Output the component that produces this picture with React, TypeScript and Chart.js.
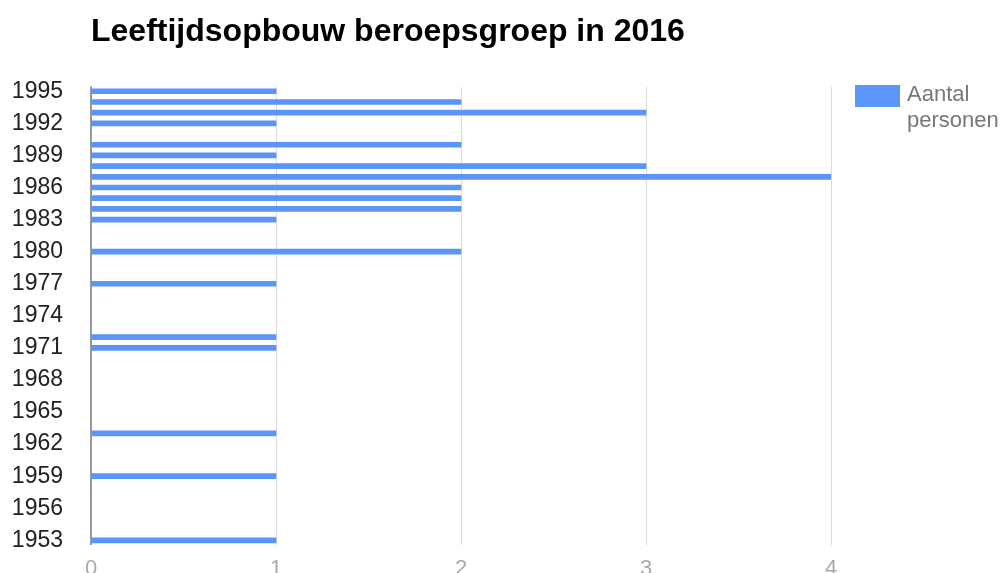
import React, { useEffect, useRef } from "react";
import { Chart, registerables } from "chart.js";

Chart.register(...registerables);

const titleText = "Leeftijdsopbouw beroepsgroep in 2016";
const seriesName = "Aantal personen";
const legendLines = ["Aantal", "personen"];
const years = [1995, 1994, 1993, 1992, 1990, 1989, 1988, 1987, 1986, 1985, 1984, 1983, 1980, 1977, 1972, 1971, 1963, 1959, 1953];
const counts = [1, 2, 3, 1, 2, 1, 3, 4, 2, 2, 2, 1, 2, 1, 1, 1, 1, 1, 1];
const yTickValues = [1953, 1956, 1959, 1962, 1965, 1968, 1971, 1974, 1977, 1980, 1983, 1986, 1989, 1992, 1995];
const xTickValues = [0, 1, 2, 3, 4];

const BAR_COLOR = "#5b95f9";
const FONT = "'Liberation Sans', Arial, sans-serif";

const legendPlugin = {
  id: "sideLegend",
  afterDraw(chart: any) {
    const { ctx, chartArea } = chart;
    const x = chartArea.right + 24;
    const y = chartArea.top - 2;
    ctx.save();
    ctx.fillStyle = BAR_COLOR;
    ctx.fillRect(x, y, 45, 22);
    ctx.fillStyle = "#777";
    ctx.font = `22px ${FONT}`;
    ctx.textBaseline = "top";
    ctx.textAlign = "left";
    legendLines.forEach((line, i) => {
      ctx.fillText(line, x + 52, y - 1 + i * 26);
    });
    ctx.restore();
  },
};

export default function App() {
  const ref = useRef<HTMLCanvasElement>(null);
  useEffect(() => {
    document.body.style.margin = "0";
    const chart = new Chart(ref.current as HTMLCanvasElement, {
      type: "bar",
      data: {
        datasets: [
          {
            label: seriesName,
            data: years.map((y, i) => ({ x: counts[i], y })),
            backgroundColor: BAR_COLOR,
            borderWidth: 0,
            barThickness: 5,
          },
        ],
      },
      options: {
        indexAxis: "y",
        responsive: false,
        animation: false,
        devicePixelRatio: 1,
        layout: { padding: { left: 0, right: 172, top: 0, bottom: 0 } },
        plugins: {
          legend: { display: false },
          tooltip: { enabled: false },
          title: {
            display: true,
            text: titleText,
            align: "start",
            fullSize: false,
            color: "#000",
            font: { size: 32, weight: "bold", family: FONT, lineHeight: 1.2 },
            padding: { top: 13, bottom: 35.6 },
          },
        },
        scales: {
          x: {
            type: "linear",
            min: 0,
            max: 4,
            afterBuildTicks: (ax: any) => {
              ax.ticks = xTickValues.map((v) => ({ value: v }));
            },
            grid: {
              color: (c: any) => (c.tick && c.tick.value === 0 ? "#999" : "#dcdcdc"),
              drawTicks: false,
              lineWidth: 1,
            },
            border: { display: false },
            ticks: { color: "#aaa", font: { size: 22, family: FONT }, padding: 11 },
          },
          y: {
            type: "linear",
            reverse: false,
            offset: false,
            min: 1952.6,
            max: 1995.4,
            afterBuildTicks: (ax: any) => {
              ax.ticks = yTickValues.map((v) => ({ value: v }));
            },
            afterFit: (ax: any) => {
              ax.width = 91;
            },
            grid: { display: false, drawTicks: false, offset: false },
            border: { display: true, color: "#999", width: 1.5 },
            ticks: {
              color: "#222",
              font: { size: 23, family: FONT },
              padding: 28,
              callback: (v: any) => String(v),
            },
          },
        },
      },
      plugins: [legendPlugin],
    } as any);
    return () => chart.destroy();
  }, []);
  return (
    <div style={{ width: 1003, height: 573, overflow: "hidden", background: "#fff" }}>
      <canvas ref={ref} width={1003} height={593} />
    </div>
  );
}
